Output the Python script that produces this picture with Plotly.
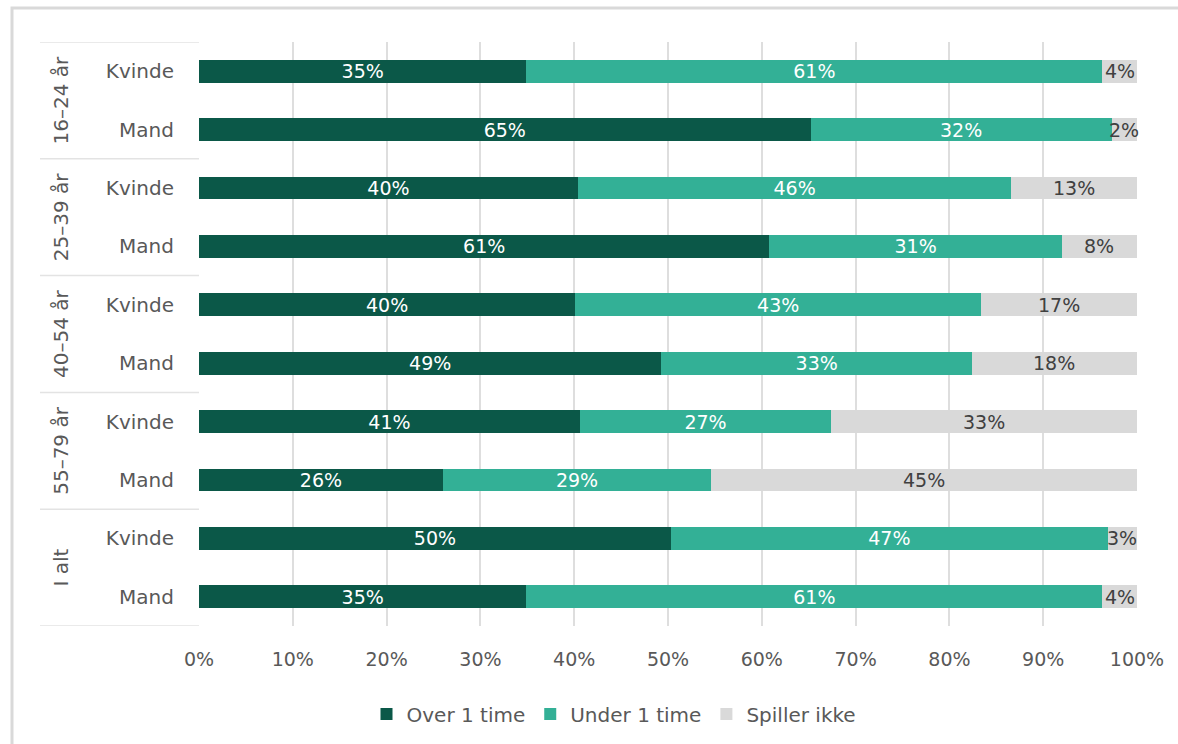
import plotly.graph_objects as go

groups = ["16–24 år", "25–39 år", "40–54 år", "55–79 år", "I alt"]
sexes = ["Kvinde", "Mand"]
row_labels = ["Kvinde", "Mand"] * 5
row_groups = ["16–24 år", "16–24 år", "25–39 år", "25–39 år", "40–54 år", "40–54 år",
              "55–79 år", "55–79 år", "I alt", "I alt"]

over = [34.9, 65.2, 40.4, 60.8, 40.1, 49.3, 40.6, 26.0, 50.3, 34.9]
under = [61.4, 32.1, 46.2, 31.2, 43.3, 33.1, 26.8, 28.6, 46.6, 61.4]
ikke = [3.7, 2.7, 13.4, 8.0, 16.6, 17.6, 32.6, 45.4, 3.1, 3.7]

over_lbl = ["35%", "65%", "40%", "61%", "40%", "49%", "41%", "26%", "50%", "35%"]
under_lbl = ["61%", "32%", "46%", "31%", "43%", "33%", "27%", "29%", "47%", "61%"]
ikke_lbl = ["4%", "2%", "13%", "8%", "17%", "18%", "33%", "45%", "3%", "4%"]

series_names = ["Over 1 time", "Under 1 time", "Spiller ikke"]
colors = ["#0b5848", "#33b096", "#d9d9d9"]
text_colors = ["#ffffff", "#ffffff", "#404040"]

x_ticks = [0, 10, 20, 30, 40, 50, 60, 70, 80, 90, 100]

FONT = "DejaVu Sans, sans-serif"
ys = list(range(len(row_labels)))

fig = go.Figure()
for name, vals, lbls, col, tcol in zip(series_names[:2], [over, under],
                                       [over_lbl, under_lbl], colors[:2], text_colors[:2]):
    fig.add_trace(go.Bar(
        y=ys, x=vals, orientation="h", name=name,
        marker=dict(color=col, line=dict(width=0)),
        text=lbls, textposition="inside", insidetextanchor="middle", textangle=0,
        textfont=dict(color=tcol, size=19, family=FONT),
        constraintext="none",
        width=0.39, hoverinfo="skip", cliponaxis=False,
    ))
fig.add_trace(go.Bar(
    y=ys, x=ikke, orientation="h", name=series_names[2],
    marker=dict(color=colors[2], line=dict(width=0)),
    textposition="none", width=0.39, hoverinfo="skip",
))

W, H = 1178, 744
L, R, T, B = 199, 41, 42, 117
pw, ph = W - L - R, H - T - B

def px_x(p):
    return (p - L) / pw

def px_y(p):
    return 1 - (p - T) / ph

shapes = []
# outer frame
shapes.append(dict(type="rect", xref="paper", yref="paper",
                   x0=px_x(12), x1=px_x(1210), y0=px_y(780), y1=px_y(8),
                   line=dict(color="#d9d9d9", width=3), fillcolor="rgba(0,0,0,0)", layer="below"))
# group separators
for b in [-0.5, 1.5, 3.5, 5.5, 7.5, 9.5]:
    shapes.append(dict(type="line", xref="paper", yref="y",
                       x0=px_x(40), x1=0, y0=b, y1=b,
                       line=dict(color="#e3e3e3", width=1.5)))

annotations = []
for i, g in enumerate(groups):
    annotations.append(dict(xref="paper", yref="y", x=px_x(61), y=2 * i + 0.5,
                            text=g, showarrow=False, textangle=-90,
                            font=dict(size=20, color="#595959", family=FONT),
                            xanchor="center", yanchor="middle"))
# labels for the grey segment (narrow segments still show theirs)
for yi, o, u, k, lbl in zip(ys, over, under, ikke, ikke_lbl):
    annotations.append(dict(xref="x", yref="y", x=o + u + k / 2, y=yi, text=lbl,
                            showarrow=False, xanchor="center", yanchor="middle",
                            font=dict(size=19, color=text_colors[2], family=FONT)))

fig.update_layout(
    width=W, height=H,
    margin=dict(l=L, r=R, t=T, b=B),
    barmode="stack",
    paper_bgcolor="white", plot_bgcolor="white",
    font=dict(family=FONT, color="#595959"),
    uniformtext=dict(minsize=19, mode="show"),
    shapes=shapes, annotations=annotations,
    legend=dict(orientation="h", x=px_x(614), xanchor="center", y=px_y(714), yanchor="middle",
                font=dict(size=20, color="#595959", family=FONT), traceorder="normal",
                itemwidth=30, bgcolor="rgba(0,0,0,0)"),
    xaxis=dict(range=[0, 100], tickvals=x_ticks, ticktext=[f"{v}%" for v in x_ticks],
               showgrid=True, gridcolor="#dedede", gridwidth=1.5, zeroline=False,
               showline=False, ticks="", ticklabelstandoff=20,
               tickfont=dict(size=19, color="#595959", family=FONT), fixedrange=True),
    yaxis=dict(range=[9.5, -0.5], tickvals=ys, ticktext=row_labels, showgrid=False,
               zeroline=False, showline=False, ticks="", ticklabelstandoff=24,
               tickfont=dict(size=20, color="#595959", family=FONT), fixedrange=True),
    showlegend=True,
)

fig.write_html("out.html")
